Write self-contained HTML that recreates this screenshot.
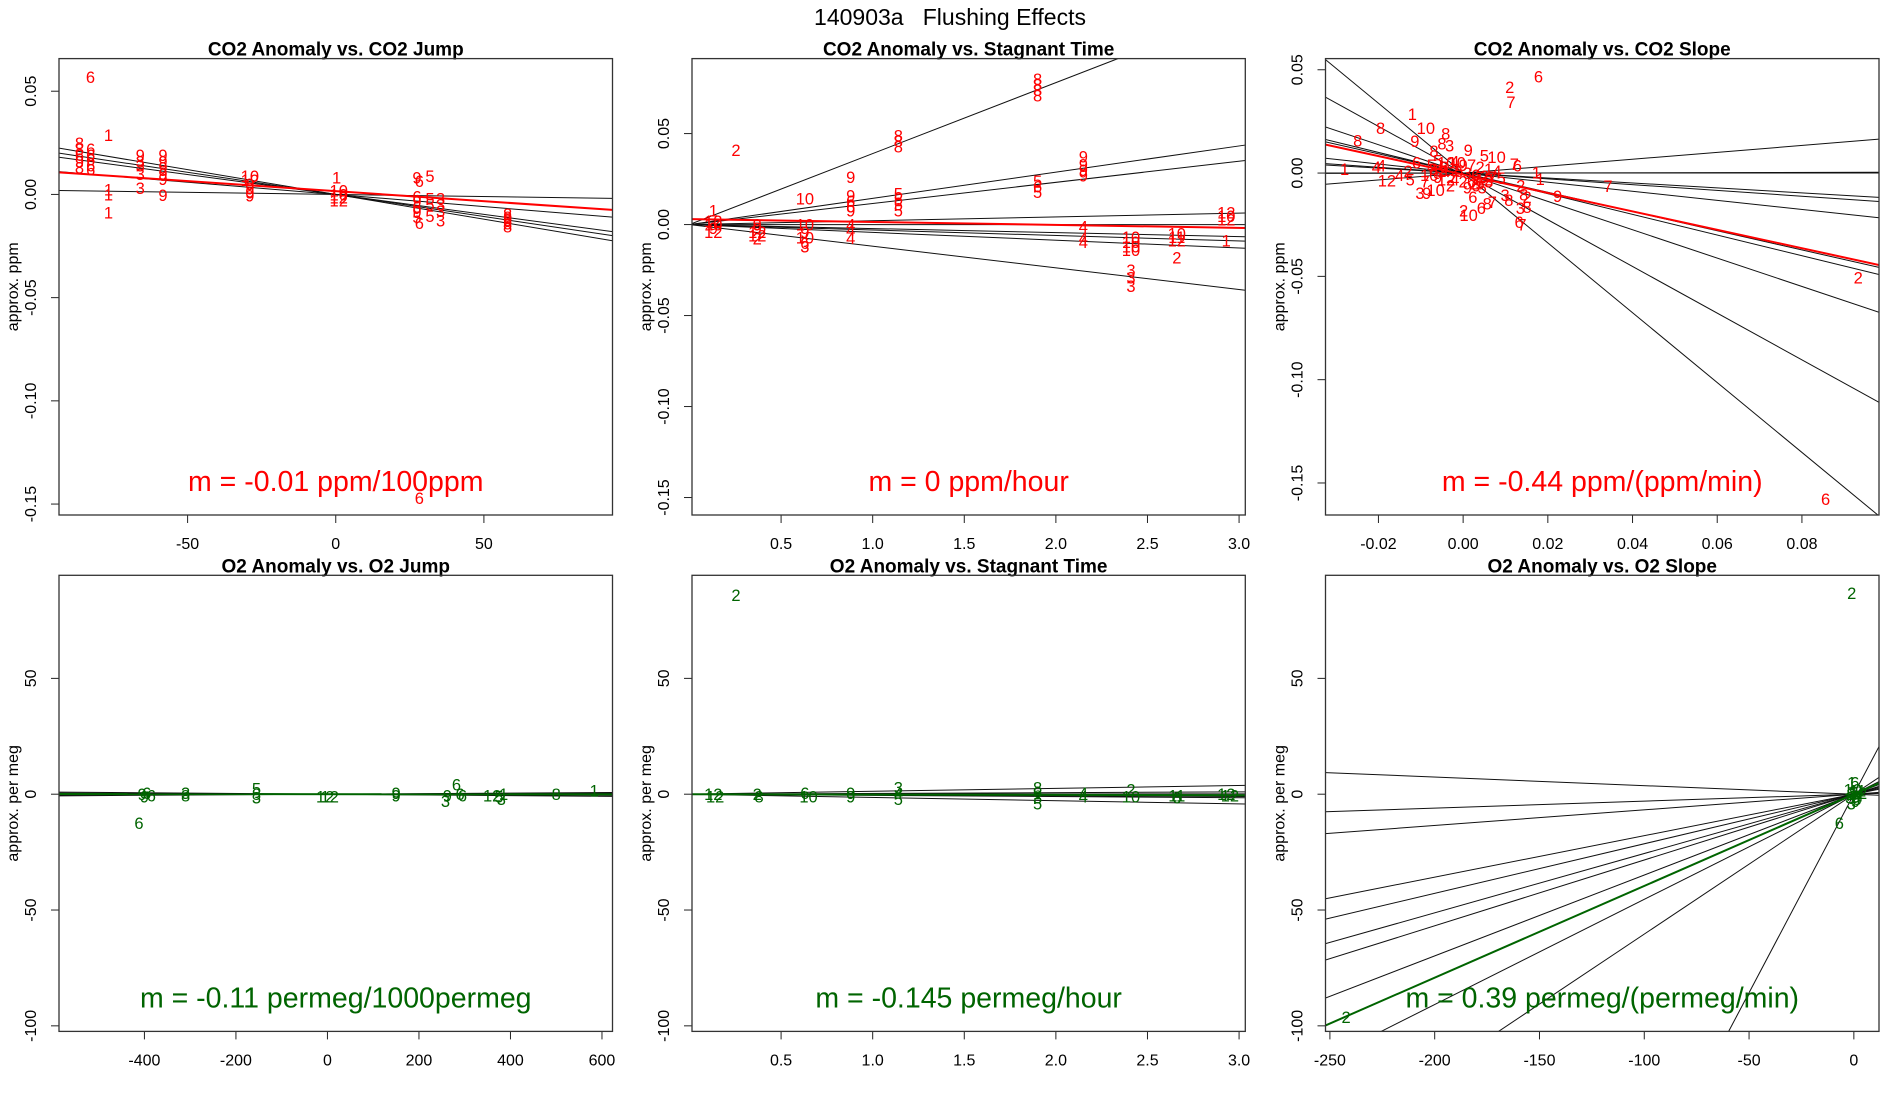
<!DOCTYPE html>
<html><head><meta charset="utf-8"><title>140903a Flushing Effects</title>
<style>
html,body{margin:0;padding:0;background:#fff;overflow:hidden;width:1900px;height:1100px;}
svg{display:block;font-family:"Liberation Sans",Arial,sans-serif;}
</style></head>
<body>
<svg id="fig" xmlns="http://www.w3.org/2000/svg" width="1900" height="1100" viewBox="0 0 1900 1100">
<rect x="0" y="0" width="1900" height="1100" fill="#fff"/>
<text x="950" y="25" text-anchor="middle" font-size="23" style="white-space:pre" xml:space="preserve">140903a   Flushing Effects</text>
</svg>
<script>
// ---------- Panel 1: CO2 Anomaly vs CO2 Jump ----------
const p1X = [-82.8,-76.7, -86.5,-86.5,-86.5,-86.5,-86.5, -82.7,-82.7,-82.7,-82.7,-82.7, -76.7,-76.7,-76.7, -66,-66,-66,-66,-66, -58.3,-58.3,-58.3,-58.3,-58.3,-58.3, -29,-29,-29,-29,-29,-29, 0.3,1,1,1,1, 27.4,28.2,27.4,27.4,27.4,27.4,27.4,28.2, 31.8,31.8,31.8,31.8, 35.4,35.4,35.4,35.4, 58,58,58,58,58, 28.2];
const p1Y = [0.057,0.0287, 0.025,0.022,0.019,0.016,0.013, 0.022,0.019,0.017,0.014,0.012, 0.0024,0,-0.0087, 0.019,0.016,0.014,0.010,0.003, 0.019,0.016,0.013,0.010,0.0075,-0.0002, 0.009,0.007,0.005,0.003,0.001,-0.0005, 0.0083,0.002,0,-0.0015,-0.003, 0.0083,0.0065,-0.001,-0.0035,-0.006,-0.0085,-0.011,-0.0138, 0.009,-0.002,-0.005,-0.0105, -0.002,-0.005,-0.008,-0.0126, -0.0095,-0.011,-0.0125,-0.014,-0.0155, -0.147];
const p1L = ["6","1", "8","8","6","9","8", "6","6","6","6","6", "1","1","1", "9","3","3","3","3", "9","9","9","9","9","9", "10","12","9","9","9","9", "1","10","10","12","12", "9","6","6","9","6","9","5","6", "5","5","5","5", "3","3","3","3", "8","8","8","8","8", "6"];
const p1Slopes = [-0.00024,-0.000214,-0.000193,-0.000118,-0.0000203];
const p1Ints = [0,0,0,0,0];
const p1FitSlope = -0.0000974, p1FitInt = 0.0016;
const p1XTicks = [-50,0,50], p1XTickLab = ["-50","0","50"];
const p1YTicks = [0.05,0,-0.05,-0.1,-0.15], p1YTickLab = ["0.05","0.00","-0.05","-0.10","-0.15"];

// ---------- Panel 2: CO2 Anomaly vs Stagnant Time ----------
const p2X = [0.13,0.13,0.13,0.13,0.13, 0.254, 0.37,0.37,0.37,0.37,0.37, 0.63,0.63,0.63,0.63,0.63,0.63, 0.88,0.88,0.88,0.88,0.88,0.88,0.88,0.88, 1.14,1.14,1.14,1.14,1.14,1.14,1.14, 1.9,1.9,1.9,1.9,1.9,1.9,1.9, 2.15,2.15,2.15,2.15,2.15,2.15,2.15, 2.41,2.41,2.41,2.41,2.41,2.41,2.41, 2.66,2.66,2.66,2.66, 2.93,2.93,2.93,2.93];
const p2Y = [0.0077,0.002,0,-0.002,-0.004, 0.041, 0,-0.002,-0.004,-0.006,-0.0077, 0.0144,0,-0.004,-0.007,-0.01,-0.012, 0.026,0.016,0.013,0.010,0.0077,0,-0.003,-0.0073, 0.049,0.046,0.043,0.017,0.014,0.011,0.0077, 0.08,0.077,0.074,0.071,0.024,0.021,0.018, 0.0375,0.033,0.030,0.027,-0.001,-0.0075,-0.0096, -0.0067,-0.0095,-0.012,-0.014,-0.025,-0.029,-0.0337, -0.0048,-0.0068,-0.0087,-0.018, 0.0067,0.0048,0.0029,-0.0087];
const p2L = ["1","12","10","9","12", "2", "9","9","12","12","2", "10","10","9","10","6","3", "9","9","6","6","9","4","4","4", "8","8","8","5","5","5","5", "8","8","8","8","5","6","5", "9","9","9","9","4","4","4", "10","10","10","10","3","3","3", "10","11","12","2", "12","10","12","1"];
const p2Slopes = [0.039,0.0144,0.0116,0.0021,0,-0.0022,-0.003,-0.0043,-0.0119];
const p2Ints = [0,0,0,0,0,0,0,0,0];
const p2FitSlope = -0.0016, p2FitInt = 0.003;
const p2XTicks = [0.5,1,1.5,2,2.5,3], p2XTickLab = ["0.5","1.0","1.5","2.0","2.5","3.0"];
const p2YTicks = [0.05,0,-0.05,-0.1,-0.15], p2YTickLab = ["0.05","0.00","-0.05","-0.10","-0.15"];

// ---------- Panel 3: CO2 Anomaly vs CO2 Slope ----------
const p3X = [0.0178,0.011,0.0113,-0.012,-0.0088,-0.0195,-0.0249,-0.0114,-0.0041,-0.005,-0.0032,-0.0069,0.0012,0.005,0.0079,0.0121,0.0128,-0.028,-0.0205,-0.0193,-0.018,-0.0125,-0.0102,-0.0086,-0.0065,0.0342,0.0223,0.0933,0.0856,0.0001,0.0013,0.0043,0.0057,0.0069,0.0023,0.0135,0.0151,0.0132,0.0139,0.0099,0.0108,0.0143,0.0151,0.0136,0.0173,0.0182,
 -0.006,-0.004,-0.002,0,0.002,0.004,0.006,0.008,-0.007,-0.005,-0.003,-0.001,0.001,0.003,0.005,0.007,0.009,-0.008,-0.006,-0.004,-0.002,0,0.002,0.004,0.006,-0.009,-0.003,0.001,0.003,0.005,-0.011,-0.013,-0.015,-0.0075,-0.0045,-0.0015,0.0025,0.0045];
const p3Y = [0.0468,0.0417,0.0345,0.0286,0.0218,0.0218,0.0158,0.0155,0.0192,0.0143,0.0134,0.0107,0.0112,0.0085,0.0078,0.0043,0.0037,0.002,0.003,0.0036,-0.0037,-0.003,-0.0097,-0.0097,-0.0083,-0.0063,-0.011,-0.0505,-0.1577,-0.0182,-0.0202,-0.0168,-0.0148,-0.0139,-0.0117,-0.0168,-0.0165,-0.0238,-0.0250,-0.0105,-0.0131,-0.0104,-0.0115,-0.0061,0.0002,-0.0029,
 0.006,0.005,0.0055,0.004,0.004,0.003,0.002,0.001,0.002,0.001,0.0015,0.001,0,-0.001,-0.0015,-0.002,-0.0025,-0.001,-0.002,-0.003,-0.003,-0.004,-0.004,-0.005,-0.004,-0.004,-0.006,-0.007,-0.006,-0.003,0.005,0.001,-0.001,0.004,0.003,0.005,-0.005,-0.007];
const p3L = ["6","2","7","1","10","8","8","9","8","8","3","8","9","5","10","7","6","1","4","4","12","5","3","9","10","7","9","2","6","2","10","6","8","7","6","3","8","6","7","3","8","8","2","2","1","1",
 "5","10","4","9","7","2","1","4","8","2","12","5","3","6","2","7","5","10","9","12","4","2","6","5","3","7","2","9","6","12","6","2","4","5","6","10","2","5"];
const p3Slopes = [-1.69,-1.13,-0.686,-0.5,-0.465,-0.22,-0.14,-0.12,0,0.004,0.167];
const p3Ints = [0,0,0,0,0,0,0,0,0,0,0];
const p3FitSlope = -0.446, p3FitInt = -0.0007;
const p3XTicks = [-0.02,0,0.02,0.04,0.06,0.08], p3XTickLab = ["-0.02","0.00","0.02","0.04","0.06","0.08"];
const p3YTicks = [0.05,0,-0.05,-0.1,-0.15], p3YTickLab = ["0.05","0.00","-0.05","-0.10","-0.15"];

// ---------- Panel 4: O2 Anomaly vs O2 Jump ----------
const p4X = [-405,-395,-385,-400,-310,-310,-155,-155,-155,-5,5,150,150,258,262,290,282,295,360,375,385,380,500,583,-412];
const p4Y = [0,0.5,-0.5,-1,0.5,-0.5,2.4,0,-1.5,-1,-1,0.5,-0.5,-2.9,-0.5,0,4.2,-0.5,-0.5,-1,0,-2,0,1.5,-12.4];
const p4L = ["9","6","6","9","3","8","5","8","3","12","12","9","9","3","9","6","6","6","12","5","1","3","8","1","6"];
const p4Slopes = [0.0012,-0.0015,0.0006,-0.0008,0.0003];
const p4Ints = [0,0,0,0,0];
const p4FitSlope = -0.00011, p4FitInt = 0;
const p4XTicks = [-400,-200,0,200,400,600], p4XTickLab = ["-400","-200","0","200","400","600"];
const p4YTicks = [50,0,-50,-100], p4YTickLab = ["50","0","-50","-100"];

// ---------- Panel 5: O2 Anomaly vs Stagnant Time ----------
const p5X = [0.254,0.13,0.14,0.37,0.38,0.63,0.65,0.88,0.88,1.14,1.14,1.14,1.9,1.9,1.9,1.9,2.15,2.15,2.41,2.41,2.66,2.66,2.93,2.95];
const p5Y = [85.9,0,-1,0,-1,0.5,-1,0.5,-1,3,0.5,-2,3,1,-1.5,-4,0.5,-1,2,-1,-0.5,-1.5,0,-0.5];
const p5L = ["2","12","12","2","8","6","10","9","9","3","4","5","8","6","3","5","4","4","2","10","11","6","12","12"];
const p5Slopes = [1.25,0.33,0.05,-0.33,-0.5,-1.4];
const p5Ints = [0,0,0,0,0,0];
const p5FitSlope = -0.145, p5FitInt = 0;
const p5XTicks = [0.5,1,1.5,2,2.5,3], p5XTickLab = ["0.5","1.0","1.5","2.0","2.5","3.0"];
const p5YTicks = [50,0,-50,-100], p5YTickLab = ["50","0","-50","-100"];

// ---------- Panel 6: O2 Anomaly vs O2 Slope ----------
const p6X = [-1,-242.3,-6.9,-1,0.5,-1.5,0,1,2,-2,1.5,-0.5,0.8,2.5,-1.2,0.3,1.8];
const p6Y = [86.8,-96.1,-12.5,5,5,0,1,-1,0.5,-1.5,-2,2,-3,-0.5,-4,-1,1.5];
const p6L = ["2","2","6","1","6","2","9","5","12","3","8","10","9","4","3","7","11"];
const p6Slopes = [-0.037,0.030,0.0675,0.179,0.214,0.256,0.284,0.349,0.454,0.604,1.714];
const p6Ints = [0,0,0,0,0,0,0,0,0,0,0];
const p6FitSlope = 0.396, p6FitInt = 0;
const p6XTicks = [-250,-200,-150,-100,-50,0], p6XTickLab = ["-250","-200","-150","-100","-50","0"];
const p6YTicks = [50,0,-50,-100], p6YTickLab = ["50","0","-50","-100"];

const svg = document.getElementById('fig');
const NS = 'http://www.w3.org/2000/svg';
function mk(tag, attrs, parent) {
  const e = document.createElementNS(NS, tag);
  for (const k in attrs) e.setAttribute(k, attrs[k]);
  (parent || svg).appendChild(e);
  return e;
}
const RED = '#ff0000', GREEN = '#006400';
const COLS = [[59, 612.5], [692, 1245.3], [1325.5, 1879]];
const ROWS = [[58.6, 515], [575.3, 1031.4]];

// clip an abline y = a + b x to the box, return [xa, xb] or null
function clipAbline(a, b, xlim, ylim) {
  let lo = xlim[0], hi = xlim[1];
  if (b !== 0) {
    let xa = (ylim[0] - a) / b, xb = (ylim[1] - a) / b;
    if (xa > xb) { const t = xa; xa = xb; xb = t; }
    lo = Math.max(lo, xa); hi = Math.min(hi, xb);
  } else if (a < ylim[0] || a > ylim[1]) return null;
  return lo < hi ? [lo, hi] : null;
}

function panel(idx, geom, xlim, ylim, title, ylab, X, Y, L, slopes, ints, fitS, fitI, xt, xtl, yt, ytl, color, mtext) {
  const [x0, x1] = geom.x, [y0, y1] = geom.y;
  const sx = v => x0 + (v - xlim[0]) / (xlim[1] - xlim[0]) * (x1 - x0);
  const sy = v => y1 - (v - ylim[0]) / (ylim[1] - ylim[0]) * (y1 - y0);
  const g = mk('g', {});
  
  
  const cp = mk('clipPath', {id: 'clip' + idx}, g);
  mk('rect', {x: x0, y: y0, width: x1 - x0, height: y1 - y0}, cp);
  const t = mk('text', {x: (x0 + x1) / 2, y: y0 - 3, 'text-anchor': 'middle', 'font-size': 19, 'font-weight': 'bold'}, g);
  
  
  t.textContent = title;
  const yl = mk('text', {x: x0 - 41, y: (y0 + y1) / 2, 'text-anchor': 'middle', 'font-size': 16, transform: 'rotate(-90 ' + (x0 - 41) + ' ' + ((y0 + y1) / 2) + ')'}, g);
  
  
  yl.textContent = ylab;
  xt.forEach((v, i) => {
    const px = sx(v);
    const tk = mk('line', {x1: px, x2: px, y1: y1, y2: y1 + 8, stroke: '#222', 'stroke-width': 1}, g);
    
    
    const tl = mk('text', {x: px, y: y1 + 34, 'text-anchor': 'middle', 'font-size': 16}, g);
    
    
    tl.textContent = xtl[i];
  });
  yt.forEach((v, i) => {
    const py = sy(v);
    const tk = mk('line', {x1: x0 - 8, x2: x0, y1: py, y2: py, stroke: '#222', 'stroke-width': 1}, g);
    
    
    const lx = x0 - 23;
    const tl = mk('text', {x: lx, y: py, 'text-anchor': 'middle', 'font-size': 16, transform: 'rotate(-90 ' + lx + ' ' + py + ')'}, g);
    
    
    tl.textContent = ytl[i];
  });
  const lg = mk('g', {'clip-path': 'url(#clip' + idx + ')'}, g);
  slopes.forEach((s, i) => {
    const seg = clipAbline(ints[i], s, xlim, ylim);
    if (!seg) return;
    const ln = mk('line', {x1: sx(seg[0]), y1: sy(ints[i] + s * seg[0]), x2: sx(seg[1]), y2: sy(ints[i] + s * seg[1]), stroke: '#111', 'stroke-width': 1}, lg);
    
    
  });
  X.forEach((v, i) => {
    const pt = mk('text', {x: sx(v), y: sy(Y[i]) + 6, 'text-anchor': 'middle', 'font-size': 16.5, fill: color}, lg);
    
    
    pt.textContent = L[i];
  });
  const fseg = clipAbline(fitI, fitS, xlim, ylim);
  if (fseg) {
    const fl = mk('line', {x1: sx(fseg[0]), y1: sy(fitI + fitS * fseg[0]), x2: sx(fseg[1]), y2: sy(fitI + fitS * fseg[1]), stroke: color, 'stroke-width': 2}, lg);
    
    
  }
  const fr = mk('rect', {x: x0, y: y0, width: x1 - x0, height: y1 - y0, fill: 'none', stroke: '#333', 'stroke-width': 1.3}, g);
  
  
  const mt = mk('text', {x: (x0 + x1) / 2, y: y1 - 24, 'text-anchor': 'middle', 'font-size': 28.5, fill: color}, g);
  
  
  mt.textContent = mtext;
}

panel(1, {x: COLS[0], y: ROWS[0]}, [-93.4, 93.4], [-0.1553, 0.0658], 'CO2 Anomaly vs. CO2 Jump', 'approx. ppm',
  p1X, p1Y, p1L, p1Slopes, p1Ints, p1FitSlope, p1FitInt, p1XTicks, p1XTickLab, p1YTicks, p1YTickLab, RED, 'm = -0.01 ppm/100ppm');
panel(2, {x: COLS[1], y: ROWS[0]}, [0.0137, 3.034], [-0.1596, 0.0912], 'CO2 Anomaly vs. Stagnant Time', 'approx. ppm',
  p2X, p2Y, p2L, p2Slopes, p2Ints, p2FitSlope, p2FitInt, p2XTicks, p2XTickLab, p2YTicks, p2YTickLab, RED, 'm = 0 ppm/hour');
panel(3, {x: COLS[2], y: ROWS[0]}, [-0.0325, 0.0982], [-0.1655, 0.0554], 'CO2 Anomaly vs. CO2 Slope', 'approx. ppm',
  p3X, p3Y, p3L, p3Slopes, p3Ints, p3FitSlope, p3FitInt, p3XTicks, p3XTickLab, p3YTicks, p3YTickLab, RED, 'm = -0.44 ppm/(ppm/min)');
panel(4, {x: COLS[0], y: ROWS[1]}, [-586.7, 623], [-102.4, 94.5], 'O2 Anomaly vs. O2 Jump', 'approx. per meg',
  p4X, p4Y, p4L, p4Slopes, p4Ints, p4FitSlope, p4FitInt, p4XTicks, p4XTickLab, p4YTicks, p4YTickLab, GREEN, 'm = -0.11 permeg/1000permeg');
panel(5, {x: COLS[1], y: ROWS[1]}, [0.0137, 3.034], [-102.4, 94.5], 'O2 Anomaly vs. Stagnant Time', 'approx. per meg',
  p5X, p5Y, p5L, p5Slopes, p5Ints, p5FitSlope, p5FitInt, p5XTicks, p5XTickLab, p5YTicks, p5YTickLab, GREEN, 'm = -0.145 permeg/hour');
panel(6, {x: COLS[2], y: ROWS[1]}, [-252.1, 12], [-102.4, 94.5], 'O2 Anomaly vs. O2 Slope', 'approx. per meg',
  p6X, p6Y, p6L, p6Slopes, p6Ints, p6FitSlope, p6FitInt, p6XTicks, p6XTickLab, p6YTicks, p6YTickLab, GREEN, 'm = 0.39 permeg/(permeg/min)');
</script>
</body></html>
